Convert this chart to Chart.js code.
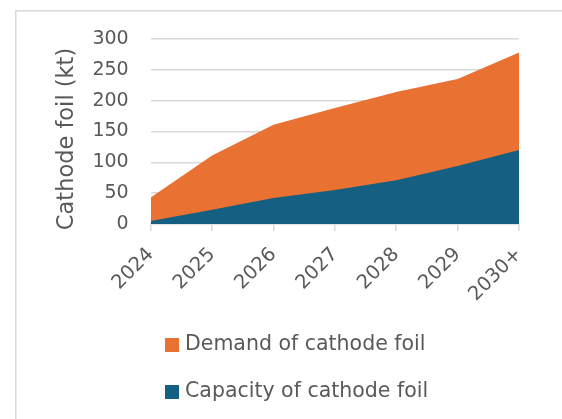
<!DOCTYPE html>
<html>
<head>
<meta charset="utf-8">
<script src="https://cdn.jsdelivr.net/npm/chart.js@4/dist/chart.umd.min.js"></script>
<style>
  html, body { margin: 0; padding: 0; background: #fff; overflow: hidden; }
  #wrap { position: absolute; left: 0; top: 0; width: 562px; height: 419px; }
</style>
</head>
<body>
<div id="wrap"><canvas id="c"></canvas></div>
<script>
const years = ['2024', '2025', '2026', '2027', '2028', '2029', '2030+'];
const demand = [43, 111, 161, 188, 214, 235, 278];
const capacity = [5, 23, 42, 55, 71, 94, 120];
const yTicks = [0, 50, 100, 150, 200, 250, 300];
const yTitle = 'Cathode foil (kt)';

const orange = '#E97132';
const blue = '#156082';
const grey = '#595959';
const gridGrey = '#d9d9d9';
const font = 'DejaVu Sans';

// frame, axis title and a vertical legend, drawn round the plot
const furniture = {
	id: 'furniture',
	beforeDraw(chart){
		const ctx = chart.ctx;
		ctx.save();
		ctx.fillStyle = gridGrey;
		ctx.fillRect(15, 10, 1.5, 409);   // left edge of the frame
		ctx.fillRect(15, 10, 547, 1.5);   // top edge, runs off the right side
		ctx.restore();
	},
	afterDraw(chart){
		const ctx = chart.ctx;
		ctx.save();
		// y axis title
		ctx.translate(67, 139);
		ctx.rotate(-Math.PI / 2);
		ctx.font = '22.5px "' + font + '"';
		ctx.fillStyle = grey;
		ctx.textAlign = 'center';
		ctx.textBaseline = 'middle';
		ctx.fillText(yTitle, 0, 0);
		ctx.restore();

		// legend, demand first
		const items = [1, 0].map(i => chart.data.datasets[i]);
		ctx.save();
		ctx.font = '20.5px "' + font + '"';
		ctx.textBaseline = 'middle';
		ctx.textAlign = 'left';
		items.forEach((ds, k) => {
			const cy = 345 + k * 47;
			ctx.fillStyle = ds.backgroundColor;
			ctx.fillRect(165, cy - 7, 14, 14);
			ctx.fillStyle = grey;
			ctx.fillText(ds.label, 185, cy);
		});
		ctx.restore();
	}
};

new Chart(document.getElementById('c'), {
	type: 'line',
	data: {
		labels: years,
		datasets: [
			{ label: 'Capacity of cathode foil', data: capacity, backgroundColor: blue, borderColor: blue,
			  borderWidth: 0, pointRadius: 0, fill: 'origin', tension: 0 },
			{ label: 'Demand of cathode foil', data: demand, backgroundColor: orange, borderColor: orange,
			  borderWidth: 0, pointRadius: 0, fill: 'origin', tension: 0 }
		]
	},
	options: {
		responsive: true,
		maintainAspectRatio: false,
		animation: false,
		layout: { padding: { left: 0, top: 39, right: 43, bottom: 115 } },
		plugins: { legend: { display: false }, tooltip: { enabled: false } },
		scales: {
			x: {
				offset: false,
				grid: { display: true, drawOnChartArea: false, drawTicks: true, tickLength: 7, color: gridGrey, lineWidth: 1.5 },
				border: { display: true, color: gridGrey, width: 1.5 },
				ticks: { color: grey, font: { family: font, size: 19.5 }, maxRotation: 45, minRotation: 45, padding: 12, autoSkip: false },
				afterFit(scale){ scale.height = 80; }
			},
			y: {
				min: 0, max: 300,
				afterBuildTicks(scale){ scale.ticks = yTicks.map(v => ({ value: v })); },
				grid: { color: gridGrey, lineWidth: 1.5, drawTicks: false },
				border: { display: false },
				ticks: { color: grey, font: { family: font, size: 19 }, padding: 22 },
				afterFit(scale){ scale.width = 150.7; }
			}
		}
	},
	plugins: [furniture]
});
</script>
</body>
</html>
